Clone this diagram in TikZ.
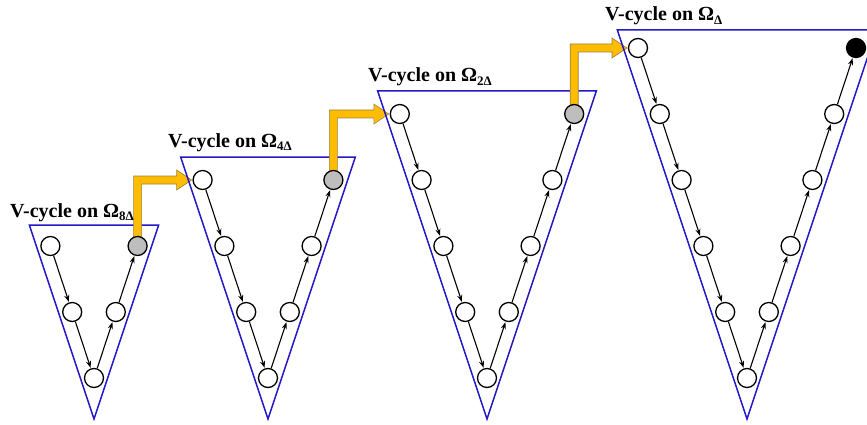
\documentclass[tikz,border=0pt]{standalone}
\usepackage{fontspec}
\setmainfont{Liberation Serif}
\usetikzlibrary{arrows.meta,calc}
\definecolor{vblue}{RGB}{35,25,200}
\definecolor{gold}{RGB}{255,188,0}
\definecolor{goldline}{RGB}{150,130,70}
\definecolor{ngray}{RGB}{190,190,190}
\tikzset{
 vnode/.style={circle, draw=black, line width=1.3pt, fill=white, minimum size=19pt, inner sep=0pt},
 grayn/.style={vnode, fill=ngray},
 blackn/.style={vnode, fill=black},
 tri/.style={draw=vblue, line width=1.5pt, line join=miter},
 conn/.style={draw=black, line width=1.1pt, -{Stealth[length=7pt,width=5pt]}, shorten >=0.5pt},
 lab/.style={font=\fontsize{20}{22}\selectfont\bfseries, inner sep=0pt, anchor=base west},
 bigarrow/.style={fill=gold, draw=goldline, line width=0.6pt, line join=miter}
}
\newcommand\vlabel[1]{V-cycle on Ω\raisebox{-0.4ex}{\fontsize{13}{14}\selectfont #1}}
\newcommand\vtri[2]{\draw[tri] ({#1-(419-#2)/3},#2) -- ({#1+(419-#2)/3},#2) -- (#1,419) -- cycle;}
\newcommand\goldarrow[2]{\path[bigarrow] let \p1=(#1), \p2=(#2) in
  (\x1-4pt,\y1) -- (\x1-4pt,\y2+4pt) -- (\x2-26pt,\y2+4pt) -- (\x2-26pt,\y2+10pt) -- (\x2-11pt,\y2)
  -- (\x2-26pt,\y2-10pt) -- (\x2-26pt,\y2-4pt) -- (\x1+4pt,\y2-4pt) -- (\x1+4pt,\y1) -- cycle;}
\begin{document}
\begin{tikzpicture}[x=1pt,y=-1pt]
\useasboundingbox (0,0) rectangle (867,425);
\clip (0,0) rectangle (867,425);
% node positions
\foreach \k/\A/\d in {1/94/2,2/268/3,3/487/4,4/747/5}{
  \pgfmathtruncatemacro\nn{2*\d}
  \foreach \i in {0,...,\nn}{
    \pgfmathsetmacro\xx{\A + (\i-\d)*21.8}
    \pgfmathsetmacro\yy{378 - abs(\i-\d)*66}
    \coordinate (p\k-\i) at (\xx,\yy);
  }
}
% triangles and transfer arrows
\vtri{94}{225}
\goldarrow{p1-4}{p2-0}
\vtri{268}{157}
\goldarrow{p2-6}{p3-0}
\vtri{487}{91}
\goldarrow{p3-8}{p4-0}
\vtri{747}{30}
% labels
\node[lab] (lab1) at (10,217) {\vlabel{8Δ}};
\node[lab] (lab2) at (168,147) {\vlabel{4Δ}};
\node[lab] (lab3) at (368,82) {\vlabel{2Δ}};
\node[lab] (lab4) at (605,21) {\vlabel{Δ}};
% nodes and connectors
\foreach \k/\d in {1/2,2/3,3/4,4/5}{
  \pgfmathtruncatemacro\nn{2*\d}
  \pgfmathtruncatemacro\nm{2*\d-1}
  \foreach \i in {0,...,\nm}{
    \node[vnode] (n\k-\i) at (p\k-\i) {};
  }
  \ifnum\k<4
    \node[grayn] (n\k-\nn) at (p\k-\nn) {};
  \else
    \node[blackn] (n\k-\nn) at (p\k-\nn) {};
  \fi
  \foreach \i in {1,...,\nn}{
    \pgfmathtruncatemacro\j{\i-1}
    \draw[conn] (n\k-\j) -- (n\k-\i);
  }
}
\end{tikzpicture}
\end{document}
